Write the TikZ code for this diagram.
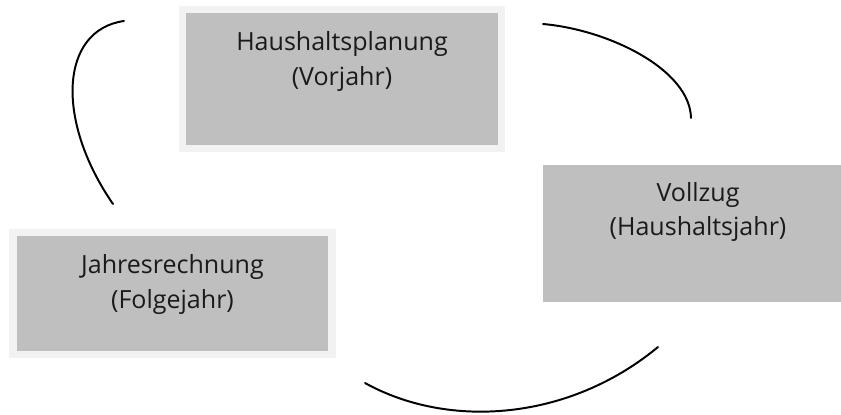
\documentclass[tikz,border=0pt]{standalone}
\usepackage{fontspec}
\setmainfont{Open Sans}
\usetikzlibrary{positioning}
\definecolor{Box}{HTML}{BFBFBF}
\definecolor{Frame}{HTML}{F2F2F2}
\definecolor{Ink}{HTML}{1A1A1A}
\tikzset{
  phase/.style={fill=Box,outer sep=0pt,inner sep=0pt},
  framed/.style={draw=Frame,line width=.1875cm},
  phasetext/.style={font=\fontsize{17.8}{24.8}\selectfont,align=center,inner sep=0pt,text=Ink},
  cycle/.style={draw=black,line width=1.4pt,line cap=round}
}
\begin{document}
\begin{tikzpicture}[x=.025cm,y=-.025cm]
        \useasboundingbox (0,0) rectangle (841,414);
        \clip (0,0) rectangle (841,414);
        % phases
        \node[phase,framed,minimum width=7.9625cm,minimum height=3.4625cm] (plan) at (342,79) {};
        \node[phase,minimum width=7.75cm,minimum height=3.425cm] (vollzug) at (698,233.5) {};
        \node[phase,framed,minimum width=7.975cm,minimum height=3.0375cm] (rechnung) at (172.5,293.5) {};
        \node[phasetext,below=.54cm of plan.north] (plantxt) {Haushaltsplanung\\(Vorjahr)};
        \node[phasetext,below=.42cm of vollzug.north] (vollzugtxt) {Vollzug\\(Haushaltsjahr)};
        \node[phasetext,below=.54cm of rechnung.north] (rechnungtxt) {Jahresrechnung\\(Folgejahr)};
        % cycle arcs
        \coordinate (a1) at (124,21);  \coordinate (b1) at (113,204);
        \coordinate (a2) at (543,24);  \coordinate (b2) at (691,118);
        \coordinate (a3) at (365,383); \coordinate (b3) at (658,347);
        \draw[cycle] (a1) .. controls (60,30) and (55,120) .. (b1);
        \draw[cycle] (a2) .. controls (610,30) and (690,70) .. (b2);
        \draw[cycle] (a3) .. controls (450,430) and (570,420) .. (b3);
      \end{tikzpicture}
\end{document}
